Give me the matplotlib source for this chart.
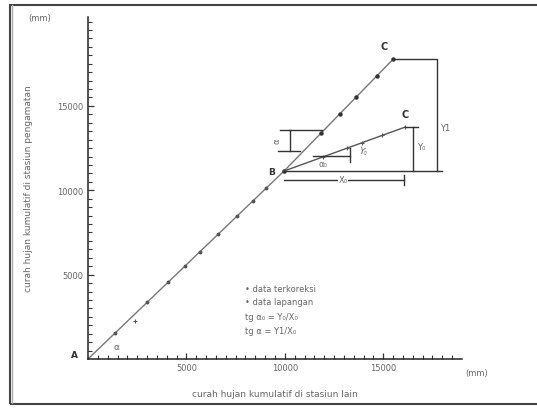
import matplotlib
matplotlib.use("Agg")
import matplotlib.pyplot as plt
from matplotlib.patches import Rectangle
import numpy as np

# ---- data ----
ab_x = [0, 1370, 3000, 4070, 4930, 5690, 6610, 7570, 8390, 9050, 9960]
ab_y = [0, 1530, 3360, 4550, 5510, 6360, 7390, 8470, 9380, 10120, 11140]
ab_field_x = [2390]
ab_field_y = [2250]
up_x = [9960, 11850, 12810, 13620, 14690, 15510]
up_y = [11140, 13400, 14550, 15520, 16800, 17780]
lo_x = [9960, 11950, 13170, 13930, 14950, 16120]
lo_y = [11140, 11980, 12500, 12820, 13250, 13750]
xticks = [5000, 10000, 15000]
yticks = [5000, 10000, 15000]
legend_lines = ["\u2022 data terkoreksi", "\u2022 data lapangan",
                "tg \u03b1\u2080 = Y\u2080/X\u2080", "tg \u03b1 = Y1/X\u2080"]

W, H = 537, 410
fig = plt.figure(figsize=(W/100, H/100), dpi=100)
ax = fig.add_axes([88/W, 50/H, (462-88)/W, (360-18)/H])
ax.set_xlim(0, 19000)
ax.set_ylim(0, 20270)

lc = "#555555"
tc = "#666666"
# straight lines through end points, markers at every point
ax.plot([ab_x[0], ab_x[-1]], [ab_y[0], ab_y[-1]], color="#777777", lw=1.0)
ax.plot(ab_x[1:], ab_y[1:], ls="none", marker="o", ms=1.8, mfc=lc, mec=lc)
ax.plot(ab_field_x, ab_field_y, ls="none", marker="+", ms=3, color=lc, mew=0.8)
ax.plot([up_x[0], up_x[-1]], [up_y[0], up_y[-1]], color="#777777", lw=1.0)
ax.plot(up_x, up_y, ls="none", marker="o", ms=2.2, mfc="#333333", mec="#333333")
ax.plot([lo_x[0], lo_x[-1]], [lo_y[0], lo_y[-1]], color="#555555", lw=1.0)
ax.plot(lo_x[1:], lo_y[1:], ls="none", marker="+", ms=3, mew=0.8, color="#555555")

bk = dict(color="#333333", lw=1.0)
# Y1 bracket
ax.plot([up_x[-1], 17740, 17740], [up_y[-1], up_y[-1], 11140], **bk)
ax.plot([ab_x[-1], 18000], [ab_y[-1], ab_y[-1]], **bk)
ax.text(17900, 13750, "Y1", fontsize=6, color=tc, ha="left", va="center")
# Y0 bracket
ax.plot([lo_x[-1], 16780], [lo_y[-1], lo_y[-1]], **bk)
ax.plot([16520, 16520], [11140, 13750], **bk)
ax.text(16700, 12570, "Y\u2080", fontsize=6, color=tc, ha="left", va="center")
# X0 bracket
ax.plot([9960, 16070], [10610, 10610], **bk)
ax.plot([16070, 16070], [10310, 10910], **bk)
ax.text(12960, 10610, "X\u2080", fontsize=6, color=tc, ha="center", va="center",
        bbox=dict(fc="white", ec="none", pad=0.5))
# small bracket on upper line
ax.plot([9760, 11900], [13570, 13570], **bk)
ax.plot([10270, 10270], [13570, 12330], **bk)
ax.plot([9660, 10780], [12330, 12330], **bk)
ax.text(9600, 12950, "\u03b1", fontsize=6, color=tc, ha="center", va="center", rotation=90)
# small triangle on lower line
ax.plot([11440, 13320], [12030, 12030], **bk)
ax.plot([13320, 13320], [12510, 11680], **bk)
ax.text(11950, 11560, "\u03b1\u2080", fontsize=6, color=tc, ha="center", va="center")
ax.text(13950, 12330, "Y\u2080", fontsize=6, color=tc, ha="center", va="center", rotation=-15)

# point labels
ax.text(-500, 280, "A", fontsize=6.5, color="#333333", ha="right", va="center", fontweight="bold", clip_on=False)
ax.text(1470, 770, "\u03b1", fontsize=6.5, color=tc, ha="center", va="center")
ax.text(9500, 11140, "B", fontsize=6.5, color="#333333", ha="right", va="center", fontweight="bold")
ax.text(15050, 18260, "C", fontsize=7, color="#333333", ha="center", va="bottom", fontweight="bold")
ax.text(16120, 14230, "C", fontsize=7, color="#333333", ha="center", va="bottom", fontweight="bold")

# legend text
for t, yy in zip(legend_lines, [4150, 3380, 2490, 1660]):
    ax.text(7980, yy, t, fontsize=6, color=tc, ha="left", va="center")

# axes styling
for s in ["top", "right"]:
    ax.spines[s].set_visible(False)
for s in ["left", "bottom"]:
    ax.spines[s].set_color("#222222")
    ax.spines[s].set_linewidth(1.1)
ax.set_xticks(xticks)
ax.set_yticks(yticks)
ax.set_xticks(np.arange(500, 19000, 500), minor=True)
ax.set_yticks(np.arange(500, 20270, 500), minor=True)
ax.tick_params(which="both", direction="in", color="#333333")
ax.tick_params(which="major", length=4, width=0.9, labelsize=6, labelcolor=tc, pad=3)
ax.tick_params(which="minor", length=3, width=0.8)
ax.set_xlabel("curah hujan kumulatif di stasiun lain", fontsize=6.5, color=tc, labelpad=12)
ax.set_ylabel("curah hujan kumulatif di stasiun pengamatan", fontsize=6.5, color=tc, labelpad=18)
ax.text(-0.13, 1.0, "(mm)", transform=ax.transAxes, fontsize=6, color=tc, ha="center", va="center")
ax.text(1.04, -0.04, "(mm)", transform=ax.transAxes, fontsize=6, color=tc, ha="center", va="center")

# frame around figure
fig.add_artist(Rectangle((10/W, 5/H), (W+20)/W, (405-6)/H, transform=fig.transFigure,
                         fill=False, ec="#444444", lw=1.5))
fig.add_artist(plt.Line2D([12/W, 12/W], [6/H, 404/H], transform=fig.transFigure, color="#aaaaaa", lw=1.0))

fig.savefig("out.png", dpi=100)
